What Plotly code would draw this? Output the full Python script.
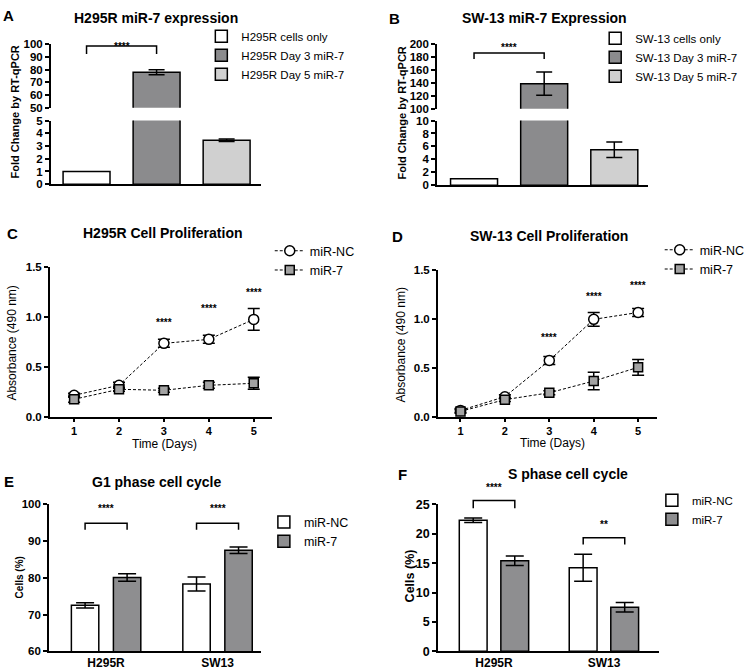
import plotly.graph_objects as go

W, H = 750, 671

# ---- data -------------------------------------------------------------
a_groups = ["H295R cells only", "H295R Day 3 miR-7", "H295R Day 5 miR-7"]
a_fold = [1.0, 78.0, 3.45]
a_err = [0.0, 2.0, 0.1]

b_groups = ["SW-13 cells only", "SW-13 Day 3 miR-7", "SW-13 Day 5 miR-7"]
b_fold = [1.0, 139.0, 5.5]
b_err = [0.0, 18.0, 1.2]

days = [1, 2, 3, 4, 5]
c_nc = [0.22, 0.32, 0.74, 0.78, 0.98]
c_nc_err = [0.02, 0.03, 0.04, 0.04, 0.11]
c_mir7 = [0.18, 0.28, 0.27, 0.32, 0.34]
c_mir7_err = [0.03, 0.02, 0.02, 0.03, 0.06]

d_nc = [0.07, 0.21, 0.58, 1.00, 1.07]
d_nc_err = [0.02, 0.02, 0.04, 0.07, 0.04]
d_mir7 = [0.06, 0.18, 0.25, 0.37, 0.51]
d_mir7_err = [0.02, 0.02, 0.02, 0.09, 0.08]

cells = ["H295R", "SW13"]
e_nc = [72.5, 78.3]
e_nc_err = [0.7, 1.9]
e_mir7 = [80.1, 87.5]
e_mir7_err = [1.0, 0.9]

f_nc = [22.3, 14.2]
f_nc_err = [0.4, 2.3]
f_mir7 = [15.4, 7.5]
f_mir7_err = [0.8, 0.8]

BAR_COLORS = ["white", "#8b8b8d", "#d0d0d0"]
FONT = "Liberation Sans, Arial, sans-serif"


def px_x(x):
    return x / W


def px_y(y):
    return 1 - y / H


# y axes: (pixel top, pixel bottom, range)
YAX = {
    "y": (116, 181, [0, 5]),
    "y2": (38, 103, [50, 100]),
    "y3": (116, 182, [0, 10]),
    "y4": (38, 104, [100, 200]),
    "y5": (266, 419, [0, 1.5]),
    "y6": (269, 419, [0, 1.5]),
    "y7": (508, 658, [60, 100]),
    "y8": (508, 658, [0, 25]),
}


def y_to_paper(ya, v):
    top, bot, (r0, r1) = YAX[ya]
    return px_y(bot - (v - r0) / (r1 - r0) * (bot - top))


def ydom(ya):
    top, bot, _ = YAX[ya]
    return [px_y(bot), px_y(top)]


fig = go.Figure()

axis_style = dict(
    showline=True, linecolor="black", linewidth=1.5, showgrid=False, zeroline=False,
    ticks="outside", ticklen=4, tickwidth=1.5, tickcolor="black",
    tickfont=dict(family=FONT, size=11.5, color="black", weight="bold"),
)
flat_axis = {**axis_style, "ticks": ""}

# ---- panels A & B (broken y axis) --------------------------------------
def broken_bar_panel(groups, vals, errs, xa_bot, xa_top, ya_bot, ya_top, legend):
    for i, (g, v, e) in enumerate(zip(groups, vals, errs)):
        for xa, ya, show in [(xa_bot, ya_bot, True), (xa_top, ya_top, False)]:
            fig.add_trace(go.Bar(
                x=[g], y=[v], width=0.67, name=g, legend=legend, showlegend=show,
                marker=dict(color=BAR_COLORS[i], line=dict(color="black", width=1.5)),
                error_y=dict(type="data", array=[e], visible=e > 0, color="black",
                             thickness=1.5, width=8),
                xaxis=xa, yaxis=ya,
            ))


broken_bar_panel(a_groups, a_fold, a_err, "x", "x2", "y", "y2", "legend")
broken_bar_panel(b_groups, b_fold, b_err, "x3", "x4", "y3", "y4", "legend2")

fig.update_layout(
    xaxis=dict(domain=[px_x(52), px_x(267)], anchor="y", range=[-0.51, 2.49],
               showticklabels=False, **flat_axis),
    xaxis2=dict(domain=[px_x(52), px_x(267)], anchor="y2", range=[-0.51, 2.49],
                visible=False, matches="x"),
    yaxis=dict(domain=ydom("y"), anchor="x", range=YAX["y"][2], dtick=1, **axis_style),
    yaxis2=dict(domain=ydom("y2"), anchor="x2", range=YAX["y2"][2], dtick=10, **axis_style),
    xaxis3=dict(domain=[px_x(447), px_x(663)], anchor="y3", range=[-0.53, 2.48],
                showticklabels=False, **flat_axis),
    xaxis4=dict(domain=[px_x(447), px_x(663)], anchor="y4", range=[-0.53, 2.48],
                visible=False, matches="x3"),
    yaxis3=dict(domain=ydom("y3"), anchor="x3", range=YAX["y3"][2], dtick=2, **axis_style),
    yaxis4=dict(domain=ydom("y4"), anchor="x4", range=YAX["y4"][2], dtick=20, **axis_style),
)

# ---- panels C & D (proliferation) ---------------------------------------
def prolif_panel(nc, nc_err, m7, m7_err, xa, ya, legend):
    fig.add_trace(go.Scatter(
        x=days, y=nc, name="miR-NC", mode="lines+markers", legend=legend,
        line=dict(color="black", width=1, dash="3px,2px"),
        marker=dict(symbol="circle", size=10, color="white", line=dict(color="black", width=1.5)),
        error_y=dict(type="data", array=nc_err, color="black", thickness=1.5, width=6),
        xaxis=xa, yaxis=ya,
    ))
    fig.add_trace(go.Scatter(
        x=days, y=m7, name="miR-7", mode="lines+markers", legend=legend,
        line=dict(color="black", width=1, dash="3px,2px"),
        marker=dict(symbol="square", size=9, color="#a3a3a3", line=dict(color="black", width=1.5)),
        error_y=dict(type="data", array=m7_err, color="black", thickness=1.5, width=6),
        xaxis=xa, yaxis=ya,
    ))


prolif_panel(c_nc, c_nc_err, c_mir7, c_mir7_err, "x5", "y5", "legend3")
prolif_panel(d_nc, d_nc_err, d_mir7, d_mir7_err, "x6", "y6", "legend4")

prolif_x = {**axis_style, "ticklen": 3,
            "tickfont": dict(family=FONT, size=11, color="black", weight="bold")}
fig.update_layout(
    xaxis5=dict(domain=[px_x(51), px_x(278)], anchor="y5", range=[0.46, 5.4], dtick=1, **prolif_x),
    yaxis5=dict(domain=ydom("y5"), anchor="x5", range=YAX["y5"][2], dtick=0.5,
                tickformat=".1f", **axis_style),
    xaxis6=dict(domain=[px_x(448), px_x(672)], anchor="y6", range=[0.49, 5.42], dtick=1, **prolif_x),
    yaxis6=dict(domain=ydom("y6"), anchor="x6", range=YAX["y6"][2], dtick=0.5,
                tickformat=".1f", **axis_style),
)

# ---- panels E & F (cell cycle) -----------------------------------------
def cycle_panel(nc, nc_err, m7, m7_err, xa, ya, legend, width, off_nc, off_m7):
    for name, vals, errs, col, off in [("miR-NC", nc, nc_err, "white", off_nc),
                                       ("miR-7", m7, m7_err, "#8e8e90", off_m7)]:
        fig.add_trace(go.Bar(
            x=cells, y=vals, name=name, legend=legend, width=width, offset=off,
            marker=dict(color=col, line=dict(color="black", width=1.5)),
            error_y=dict(type="data", array=errs, color="black", thickness=1.5, width=9),
            xaxis=xa, yaxis=ya,
        ))


cycle_panel(e_nc, e_nc_err, e_mir7, e_mir7_err, "x7", "y7", "legend5", 0.246, -0.311, 0.066)
cycle_panel(f_nc, f_nc_err, f_mir7, f_mir7_err, "x8", "y8", "legend6", 0.253, -0.316, 0.062)

cat_axis = {**flat_axis, "tickfont": dict(family=FONT, size=12, color="black", weight="bold")}
f_yaxis = {**axis_style, "tickfont": dict(family=FONT, size=12.5, color="black", weight="bold")}
fig.update_layout(
    xaxis7=dict(domain=[px_x(50), px_x(267)], anchor="y7", range=[-0.513, 1.39], **cat_axis),
    yaxis7=dict(domain=ydom("y7"), anchor="x7", range=YAX["y7"][2], dtick=10, **axis_style),
    xaxis8=dict(domain=[px_x(448), px_x(674)], anchor="y8", range=[-0.511, 1.498], **cat_axis),
    yaxis8=dict(domain=ydom("y8"), anchor="x8", range=YAX["y8"][2], dtick=5, **f_yaxis),
)

# ---- significance brackets --------------------------------------------
STAR_FONT = dict(family=FONT, size=10, color="black", weight="bold")


def bracket(xref, ya, x0, x1, ytop, ybot, label, ylab):
    pt, pb = y_to_paper(ya, ytop), y_to_paper(ya, ybot)
    fig.add_shape(type="path", xref=xref, yref="paper",
                  path=f"M {x0},{pb} L {x0},{pt} L {x1},{pt} L {x1},{pb}",
                  line=dict(color="black", width=1.5))
    fig.add_annotation(x=(x0 + x1) / 2, y=y_to_paper(ya, ylab), xref=xref, yref="paper",
                       text=label, showarrow=False, font=STAR_FONT)


bracket("x2", "y2", 0, 1, 98.5, 92.3, "****", 104)
bracket("x4", "y4", 0, 1, 186.5, 177, "****", 206)
bracket("x7", "y7", -0.188, 0.189, 94.9, 93.1, "****", 96.9)
bracket("x7", "y7", 0.812, 1.189, 94.9, 93.1, "****", 96.9)
bracket("x8", "y8", -0.189, 0.189, 25.67, 24.33, "****", 26.6)
bracket("x8", "y8", 0.811, 1.189, 19.33, 18.17, "**", 20.3)

for x, y in zip([3, 4, 5], [0.95, 1.09, 1.25]):
    fig.add_annotation(x=x, y=y, xref="x5", yref="y5", text="****", showarrow=False, font=STAR_FONT)
for x, y in zip([3, 4, 5], [0.81, 1.23, 1.345]):
    fig.add_annotation(x=x, y=y, xref="x6", yref="y6", text="****", showarrow=False, font=STAR_FONT)

# ---- titles, letters, axis titles -------------------------------------
def text(x, y, s, size, bold=True, angle=0):
    fig.add_annotation(x=px_x(x), y=px_y(y), xref="paper", yref="paper", text=s,
                       showarrow=False, textangle=angle, xanchor="center", yanchor="middle",
                       font=dict(family=FONT, size=size, color="black",
                                 weight="bold" if bold else "normal"))


text(160, 11, "H295R miR-7 expression", 14)
text(557, 11, "SW-13 miR-7 Expression", 14)
text(167, 231, "H295R Cell Proliferation", 14)
text(562, 234, "SW-13 Cell Proliferation", 14)
text(160, 485, "G1 phase cell cycle", 14)
text(581, 477, "S phase cell cycle", 14)

text(9, 9, "A", 15)
text(404, 12, "B", 15)
text(13, 231, "C", 15)
text(407, 234, "D", 15)
text(9, 485, "E", 15)
text(412, 477, "F", 15)

text(15, 107, "Fold Change by RT-qPCR", 11, angle=-90)
text(411, 108, "Fold Change by RT-qPCR", 11, angle=-90)
text(12, 343, "Absorbance (490 nm)", 12, bold=False, angle=-90)
text(410, 345, "Absorbance (490 nm)", 12, bold=False, angle=-90)
text(168, 446, "Time (Days)", 12, bold=False)
text(565, 445, "Time (Days)", 12, bold=False)
text(20, 583, "Cells (%)", 10, angle=-90)
text(419, 581, "Cells (%)", 12.5, angle=-90)

# ---- legends -----------------------------------------------------------
def legend_at(x, y, size):
    return dict(x=px_x(x), y=px_y(y), xanchor="left", yanchor="top",
                bgcolor="rgba(0,0,0,0)", font=dict(family=FONT, size=size, color="black"),
                itemclick=False, tracegroupgap=0)


fig.update_layout(
    legend=legend_at(206, 15, 11.5),
    legend2=legend_at(609, 17, 11.5),
    legend3=legend_at(276, 234, 12.5),
    legend4=legend_at(675, 233, 12.5),
    legend5=legend_at(270, 511, 12.5),
    legend6=legend_at(667, 489, 11.5),
)

fig.update_layout(
    width=W, height=H, margin=dict(l=0, r=0, t=0, b=0),
    paper_bgcolor="white", plot_bgcolor="white", barmode="overlay",
    font=dict(family=FONT, color="black"),
)

fig.write_html("out.html", config={"displayModeBar": False},
               post_script="document.body.style.margin = '0';")
